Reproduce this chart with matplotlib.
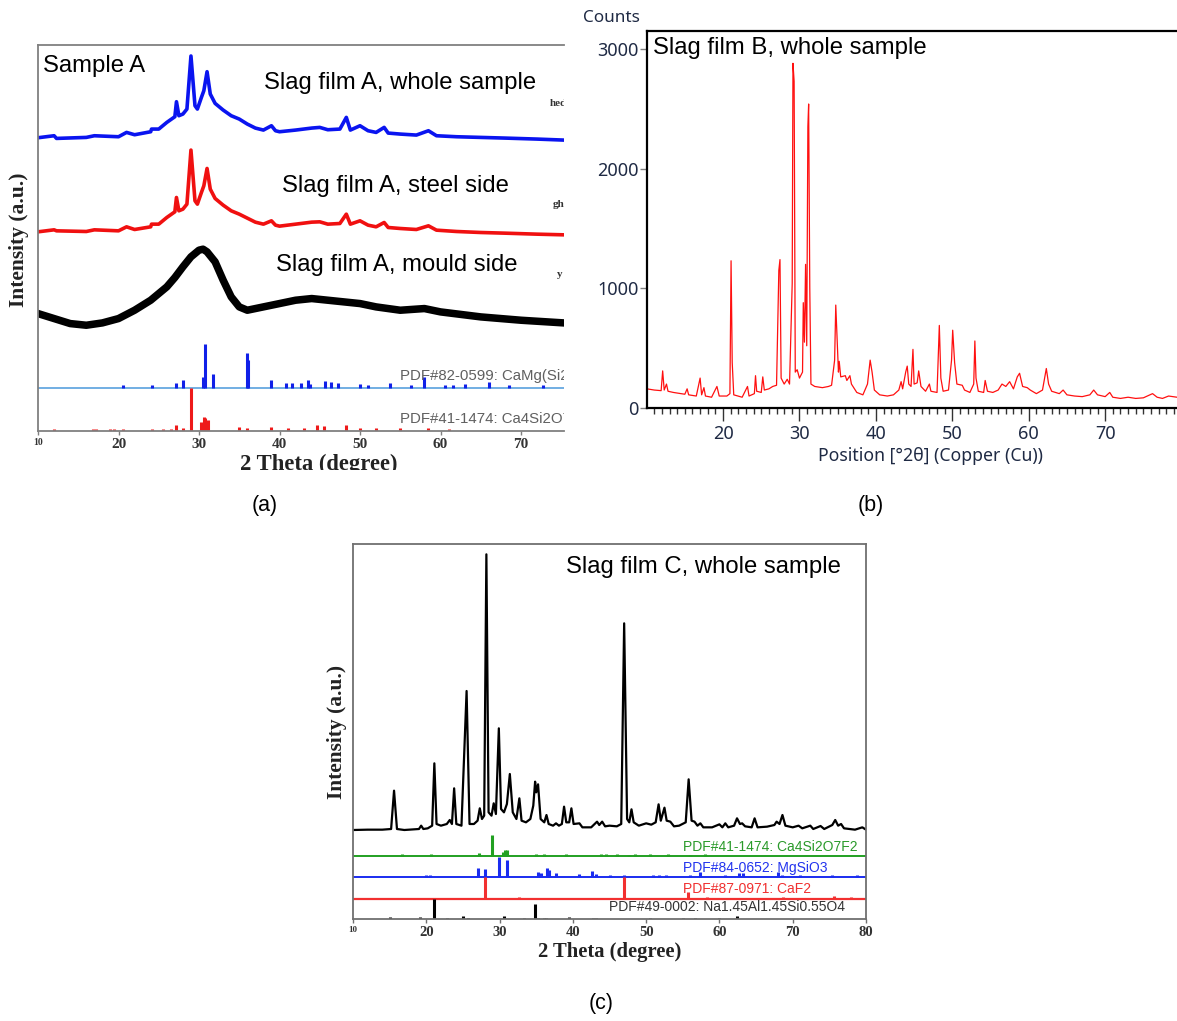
import matplotlib
matplotlib.use("Agg")
import matplotlib.pyplot as plt
from matplotlib.patches import Rectangle
from matplotlib.ticker import MultipleLocator

# ---------------- DATA ----------------
# Panel (a): Slag film A (intensity in arbitrary units)
a_whole_x = [10, 12, 12.3, 16, 17, 20, 21, 22, 24, 24.1, 25, 26, 27, 27.2, 27.5, 28, 28.5, 29, 29.5, 29.8,
             30.3, 30.6, 31, 31.4, 32, 33, 34, 35, 36, 37, 38, 39, 39.5, 40, 42, 44, 45, 46, 47.5, 48.3,
             48.8, 50, 51, 52, 53, 53.5, 55, 57, 58.5, 59.5, 62, 65, 68, 72, 75.3]
a_whole_y = [879, 885, 877, 880, 885, 882, 895, 888, 897, 905, 905, 925, 942, 987, 945, 950, 965, 1124, 975, 965,
             1000, 1020, 1077, 1010, 982, 962, 945, 935, 920, 908, 902, 915, 900, 897, 902, 908, 910, 903, 905, 940,
             902, 915, 900, 895, 910, 893, 890, 887, 900, 885, 882, 880, 878, 875, 872]
a_steel_x = a_whole_x
a_steel_y = [597, 603, 600, 598, 603, 600, 612, 604, 612, 620, 620, 640, 657, 700, 660, 665, 680, 842, 690, 680,
             715, 735, 787, 725, 697, 677, 660, 650, 638, 626, 620, 630, 617, 614, 620, 626, 627, 620, 622, 650,
             620, 630, 617, 612, 625, 610, 607, 604, 615, 602, 598, 595, 593, 590, 588]
a_mould_x = [10, 12, 14, 16, 18, 20, 22, 24, 26, 27, 28, 29, 30, 30.5, 31, 32, 33, 34, 35, 36, 38, 40, 42,
             44, 46, 48, 50, 52, 55, 58, 60, 65, 70, 75.3]
a_mould_y = [352, 337, 322, 317, 324, 337, 362, 392, 432, 460, 492, 522, 542, 545, 537, 507, 452, 402, 372, 362,
             372, 382, 392, 397, 392, 387, 382, 372, 362, 367, 357, 342, 332, 324]
a_ref1_pos = [20.6, 24.2, 27.2, 28, 30.5, 30.7, 31.7, 35.9, 36.1, 39, 40.8, 41.6, 42.7, 43.5, 43.8, 45.6, 46.4,
              47.3, 50, 51, 53.7, 56.3, 58, 60.5, 61.5, 63, 66, 68.5, 72.7]
a_ref1_top = [137, 137, 144, 154, 162, 260, 172, 235, 214, 154, 144, 144, 144, 152, 142, 150, 147,
              144, 142, 137, 144, 137, 162, 137, 137, 140, 147, 137, 137]
a_ref1_base = 130
a_ref2_pos = [12, 16.8, 17.2, 19, 19.5, 20.6, 24.2, 25.5, 26.5, 27.2, 28, 29, 30.3, 30.6, 30.8, 31.1, 35, 36,
              39, 41, 43, 44.6, 45.5, 48.2, 50, 52, 55, 58.5, 61]
a_ref2_top = [7, 7, 7, 7, 7, 7, 7, 7, 7, 19, 10, 130, 27, 42, 40, 34, 12, 9,
              12, 9, 10, 19, 14, 17, 10, 10, 9, 10, 7]
a_ref2_base = 0
a_ticks = [10, 20, 30, 40, 50, 60, 70]

# Panel (b): Slag film B (counts)
b_x = [10.05, 11, 11.9, 12.1, 12.3, 12.6, 12.8, 13.5, 14.5, 15, 15.3, 15.5, 16.5, 17, 17.2, 17.5, 17.7, 18.5,
       19.2, 19.5, 20.5, 20.9, 21.05, 21.2, 21.4, 22.5, 23.2, 23.4, 24.1, 24.25, 24.4, 25.0, 25.2, 25.4, 26,
       26.5, 27, 27.3, 27.45, 27.6, 28, 28.4, 28.7, 29.05, 29.15, 29.3, 29.45, 29.7, 30, 30.4, 30.5, 30.65,
       30.8, 30.95, 31.1, 31.2, 31.35, 31.5, 32, 33, 33.8, 34.2, 34.6, 34.75, 34.9, 35.1, 35.2, 35.4, 36, 36.2,
       36.6, 36.8, 37.5, 38.3, 38.9, 39.25, 39.5, 39.8, 40.5, 41.5, 42.3, 43, 43.3, 43.5, 43.9, 44.1, 44.3,
       44.6, 44.85, 45.0, 45.4, 45.6, 45.9, 46.5, 47, 47.2, 48.0, 48.3, 48.5, 48.8, 49.5, 49.9, 50.05, 50.3,
       50.6, 51.3, 51.6, 52.3, 52.8, 52.95, 53.1, 53.4, 54.1, 54.3, 54.6, 55.3, 56, 56.5, 57, 57.5, 58, 58.5,
       58.8, 59.2, 59.8, 60.2, 61, 61.8, 62.3, 62.6, 63, 64, 64.5, 65, 66, 67, 68, 68.5, 69, 70, 70.6, 71,
       72, 73, 74, 75, 76.2, 76.8, 77.5, 78.3, 79.4]
b_y = [160, 150, 145, 310, 150, 200, 140, 130, 120, 115, 160, 110, 100, 250, 110, 170, 100, 90,
       180, 100, 100, 120, 1230, 380, 110, 90, 180, 100, 120, 270, 140, 130, 260, 150, 160,
       180, 190, 1150, 1240, 250, 200, 240, 200, 1040, 2880, 2730, 300, 320, 250, 300, 880, 550,
       1200, 520, 2350, 2540, 1000, 200, 180, 170, 180, 190, 400, 860, 620, 300, 390, 260, 270, 230,
       270, 200, 130, 110, 200, 400, 300, 150, 110, 100, 110, 150, 220, 160, 300, 350, 200,
       180, 490, 200, 210, 310, 180, 140, 200, 140, 130, 690, 250, 140, 150, 400, 650, 380,
       200, 190, 150, 130, 200, 560, 250, 140, 130, 230, 140, 130, 150, 200, 180, 220, 160, 260,
       290, 180, 170, 150, 120, 150, 330, 200, 140, 120, 150, 110, 100, 95, 110, 150, 110, 95, 130, 90,
       80, 90, 80, 85, 120, 90, 80, 100, 90]
b_xticks = [20, 30, 40, 50, 60, 70]
b_yticks = [0, 1000, 2000, 3000]

# Panel (c): Slag film C (intensity in arbitrary units)
c_x = [10, 12, 14, 15.2, 15.6, 16, 17, 19, 19.3, 19.6, 20.2, 20.8, 21.1, 21.4, 22, 22.8, 23.2, 23.5, 23.8, 24.1,
       24.8, 25.5, 25.9, 26.5, 27, 27.3, 27.6, 27.9, 28.2, 28.5, 28.9, 29.2, 29.5, 29.9, 30.2, 30.6, 31.0,
       31.4, 31.8, 32.3, 32.7, 33.0, 33.6, 34.2, 34.6, 34.85, 35.0, 35.25, 35.6, 36.1, 36.4, 36.7, 37.3, 37.7,
       38.1, 38.5, 38.8, 39.1, 39.5, 39.8, 40.1, 40.9, 41.3, 42.5, 43.3, 43.6, 44, 44.4, 45, 46, 46.6, 47.0,
       47.4, 47.7, 48.0, 48.3, 49, 50, 50.7, 51.3, 51.7, 52.0, 52.5, 52.8, 53.3, 53.8, 54.5, 55.4, 55.8, 56.2,
       56.6, 57, 57.4, 57.8, 59, 60, 60.4, 60.8, 61.2, 62, 62.4, 62.8, 63.1, 63.5, 64.4, 64.8, 65.2, 66.5,
       67.5, 67.8, 68.2, 68.6, 69, 70, 70.8, 71.3, 72.4, 72.8, 73.8, 74.3, 75.4, 75.8, 76.2, 76.6, 77, 78.5,
       79.5, 80]
c_y = [267, 268, 268, 270, 385, 270, 267, 270, 280, 270, 272, 280, 467, 285, 280, 285, 297, 285, 392, 285,
       280, 684, 285, 285, 295, 332, 300, 310, 1094, 320, 310, 347, 315, 572, 330, 320, 345,
       435, 320, 300, 362, 295, 290, 300, 340, 412, 380, 404, 300, 290, 312, 285, 280, 287,
       280, 285, 337, 290, 290, 332, 285, 287, 275, 275, 292, 282, 292, 278, 280, 278, 285, 887,
       300, 290, 329, 290, 280, 287, 283, 290, 344, 295, 334, 295, 292, 278, 280, 290, 419, 295,
       292, 280, 287, 275, 275, 284, 275, 287, 275, 280, 302, 285, 287, 278, 275, 302, 275, 277,
       282, 292, 285, 312, 280, 275, 280, 272, 280, 270, 279, 270, 282, 297, 280, 285, 272, 268,
       275, 268]
c_ref_green_pos = [16.7, 20.7, 27.2, 29, 30.4, 30.7, 31, 35, 36, 39, 43.8, 44.5, 46, 47.7, 48.5, 50.5, 53, 56, 58]
c_ref_green_top = [194, 194, 197, 252, 202, 207, 207, 194, 194, 194, 194, 194, 194, 192, 194, 194, 194, 192, 194]
c_ref_green_base = 189
c_ref_blue_pos = [20, 20.5, 27, 28, 29.9, 31, 35.3, 35.6, 36.5, 36.8, 37.7, 40.8, 42.6, 43.2, 45, 47, 51, 51.7,
                  52.7, 56, 57.3, 60.8, 62.7, 63.2, 68, 68.6, 71, 75.3, 78.8]
c_ref_blue_top = [132, 132, 152, 149, 187, 177, 142, 137, 152, 147, 137, 134, 145, 134, 132, 132, 132, 132,
                  132, 132, 140, 132, 137, 137, 140, 132, 132, 132, 132]
c_ref_blue_base = 125
c_ref_red_pos = [28, 32.7, 47, 55.7, 58.3, 68.7, 75.7, 77.9]
c_ref_red_top = [125, 65, 125, 82, 65, 67, 69, 65]
c_ref_red_base = 60
c_ref_black_pos = [15, 19.1, 21, 22.8, 25, 25.7, 30.6, 33.4, 34.8, 35.3, 36, 36.4, 39.5, 42.8, 43.2, 50.5, 55,
                   56.6, 60, 62.4]
c_ref_black_top = [7, 7, 60, 4, 10, 4, 10, 4, 44, 4, 4, 4, 7, 4, 4, 4, 4, 4, 4, 9]
c_ticks = [10, 20, 30, 40, 50, 60, 70, 80]

# ---------------- FIGURE ----------------
W, H = 1177, 1021
fig = plt.figure(figsize=(W / 100, H / 100), dpi=100)
SANS = ["Liberation Sans", "DejaVu Sans"]
SERIF = ["Liberation Serif", "DejaVu Serif"]
UI = ["Noto Sans", "DejaVu Sans"]


def box(l, t, r, b):
    return [l / W, 1 - b / H, (r - l) / W, (b - t) / H]


def ftext(x, y, s, **kw):
    return fig.text(x / W, 1 - y / H, s, **kw)


# ----- Panel (a) -----
ax = fig.add_axes(box(38, 45, 564, 431))
ax.plot(a_whole_x, a_whole_y, color="#0a14f0", lw=2.6, solid_joinstyle="round")
ax.plot(a_steel_x, a_steel_y, color="#f01010", lw=2.6, solid_joinstyle="round")
ax.plot(a_mould_x, a_mould_y, color="black", lw=5.4, solid_joinstyle="round")
ax.axhline(a_ref1_base, color="#66a8e0", lw=1.3)
ax.vlines(a_ref1_pos, a_ref1_base, a_ref1_top, colors="#1020e8", lw=2.2)
ax.vlines(a_ref2_pos, a_ref2_base, a_ref2_top, colors="#ee1a1a", lw=2.2)
ax.set_xlim(10, 75.34)
ax.set_ylim(0, 1157)
for s in ["left", "top", "bottom"]:
    ax.spines[s].set_color("#808080")
    ax.spines[s].set_linewidth(1.3)
ax.spines["right"].set_visible(False)
ax.set_yticks([])
ax.set_xticks(a_ticks)
ax.set_xticklabels([str(t) for t in a_ticks], fontfamily=SERIF, fontweight="bold", fontsize=11, color="#333333")
ax.get_xticklabels()[0].set_fontsize(7)
ax.tick_params(axis="x", direction="out", length=3, width=1, color="#808080", pad=2)
ax.text(55.0, 165, "PDF#82-0599: CaMg(Si2O6)", fontfamily=SANS, fontsize=10.8, color="#606060",
        va="center", ha="left", clip_on=True)
ax.text(55.0, 37, "PDF#41-1474: Ca4Si2O7F2", fontfamily=SANS, fontsize=10.8, color="#606060",
        va="center", ha="left", clip_on=True)
for xx, yy, s in [(73.6, 982, "hed"), (73.9, 680, "gh"), (74.4, 470, "y")]:
    ax.text(xx, yy, s, fontfamily=SERIF, fontweight="bold", fontsize=8, color="#333333",
            va="center", ha="left", clip_on=True)

ftext(43, 66, "Sample A", fontfamily=SANS, fontsize=17.2, va="center")
ftext(264, 83, "Slag film A, whole sample", fontfamily=SANS, fontsize=17.2, va="center")
ftext(282, 186, "Slag film A, steel side", fontfamily=SANS, fontsize=17.2, va="center")
ftext(276, 265, "Slag film A, mould side", fontfamily=SANS, fontsize=17.2, va="center")
ftext(19, 240, "Intensity (a.u.)", fontfamily=SERIF, fontweight="bold", fontsize=15.5, rotation=90,
      va="center", ha="center", color="#222222")
ftext(319, 464, "2 Theta (degree)", fontfamily=SERIF, fontweight="bold", fontsize=16.3, va="center",
      ha="center", color="#222222")
fig.add_artist(Rectangle((0, 1 - 492 / H), 580 / W, 22 / H, transform=fig.transFigure,
                         facecolor="white", edgecolor="none", zorder=10))
ftext(265, 505, "(a)", fontfamily=SANS, fontsize=15.5, va="center", ha="center")

# ----- Panel (b) -----
bx = fig.add_axes(box(647, 31, 1177, 408))
bx.plot(b_x, b_y, color="#ff1010", lw=0.9)
bx.set_xlim(10.05, 79.4)
bx.set_ylim(0, 3150)
bx.spines["right"].set_visible(False)
for s in ["left", "top", "bottom"]:
    bx.spines[s].set_linewidth(1.6)
    bx.spines[s].set_color("black")
bx.set_xticks(b_xticks)
bx.xaxis.set_minor_locator(MultipleLocator(1))
bx.set_yticks(b_yticks)
bx.tick_params(axis="x", which="major", direction="out", length=9, width=1, color="#333333",
               labelsize=13, labelcolor="#1f2a44", pad=3)
bx.tick_params(axis="x", which="minor", direction="out", length=4, width=1, color="#333333")
bx.tick_params(axis="y", direction="out", length=5, width=1, color="#808080", labelsize=13,
               labelcolor="#1f2a44", pad=1)
for lab in bx.get_xticklabels() + bx.get_yticklabels():
    lab.set_fontfamily(UI)
ftext(583, 18, "Counts", fontfamily=UI, fontsize=12.3, color="#1f2a44", va="center", ha="left")
ftext(930, 456, "Position [°2θ] (Copper (Cu))", fontfamily=UI, fontsize=12.7, color="#1f2a44",
      va="center", ha="center")
ftext(653, 48, "Slag film B, whole sample", fontfamily=SANS, fontsize=17.2, va="center")
ftext(871, 505, "(b)", fontfamily=SANS, fontsize=15.5, va="center", ha="center")

# ----- Panel (c) -----
cx = fig.add_axes(box(353, 544, 866, 919))
cx.plot(c_x, c_y, color="black", lw=1.6, solid_joinstyle="round")
cx.axhline(c_ref_green_base, color="#21a021", lw=1.4)
cx.vlines(c_ref_green_pos, c_ref_green_base, c_ref_green_top, colors="#21a021", lw=2.2)
cx.axhline(c_ref_blue_base, color="#1a2cf0", lw=1.4)
cx.vlines(c_ref_blue_pos, c_ref_blue_base, c_ref_blue_top, colors="#1a2cf0", lw=2.2)
cx.axhline(c_ref_red_base, color="#f23030", lw=1.6)
cx.vlines(c_ref_red_pos, c_ref_red_base, c_ref_red_top, colors="#f23030", lw=2.2)
cx.vlines(c_ref_black_pos, 0, c_ref_black_top, colors="black", lw=2.2)
cx.set_xlim(10, 80)
cx.set_ylim(0, 1125)
for s in ["left", "top", "bottom", "right"]:
    cx.spines[s].set_color("#707070")
    cx.spines[s].set_linewidth(1.3)
cx.set_yticks([])
cx.set_xticks(c_ticks)
cx.set_xticklabels([str(t) for t in c_ticks], fontfamily=SERIF, fontweight="bold", fontsize=10.5, color="#333333")
cx.get_xticklabels()[0].set_fontsize(6.5)
cx.tick_params(axis="x", direction="out", length=3, width=1, color="#707070", pad=2)
lab_kw = dict(fontfamily=SANS, fontsize=10, va="center", ha="left")
ftext(683, 847, "PDF#41-1474: Ca4Si2O7F2", color="#2a9a2a", **lab_kw)
ftext(683, 868, "PDF#84-0652: MgSiO3", color="#2233ee", **lab_kw)
ftext(683, 889, "PDF#87-0971: CaF2", color="#f03030", **lab_kw)
ftext(609, 907, "PDF#49-0002: Na1.45Al1.45Si0.55O4", color="#333333", **lab_kw)
ftext(566, 567, "Slag film C, whole sample", fontfamily=SANS, fontsize=17.2, va="center")
ftext(337, 732, "Intensity (a.u.)", fontfamily=SERIF, fontweight="bold", fontsize=15.4, rotation=90,
      va="center", ha="center", color="#222222")
ftext(610, 952, "2 Theta (degree)", fontfamily=SERIF, fontweight="bold", fontsize=14.9, va="center",
      ha="center", color="#222222")
ftext(601, 1003, "(c)", fontfamily=SANS, fontsize=15.5, va="center", ha="center")

fig.savefig("out.png", dpi=100)
